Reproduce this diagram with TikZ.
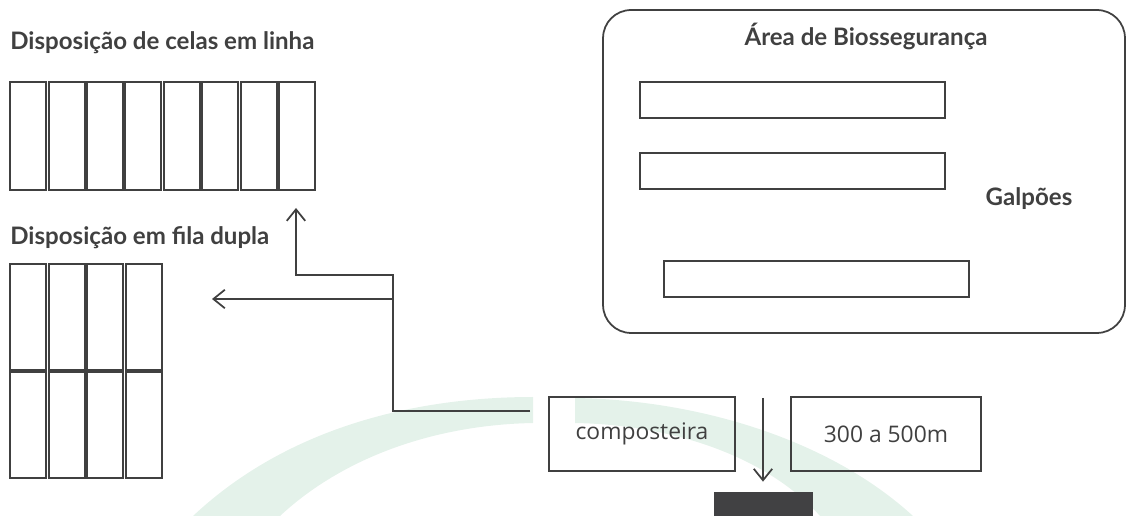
\documentclass[tikz,border=0pt]{standalone}
\usepackage{xcolor}
\usepackage{fontspec}
\setmainfont{Lato}
\newfontfamily\caixafont{Open Sans}
\usepackage{tikz}
\usetikzlibrary{arrows.meta}

\definecolor{cinza}{HTML}{404040}
\definecolor{marcadagua}{RGB}{228,242,234}
\definecolor{bloco}{HTML}{414143}

\tikzset{
    cela/.style={draw=cinza, line width=1.1pt, inner sep=0pt, minimum width=0.72cm},
    galpao/.style={draw=cinza, line width=1pt, inner sep=0pt, minimum width=6.1cm, minimum height=0.72cm},
    caixa/.style={draw=cinza, line width=1pt, inner sep=0pt, minimum height=1.48cm, text=cinza, font=\caixafont\fontsize{13}{15}\selectfont},
    titulo/.style={inner sep=0pt, text=cinza, font=\bfseries\fontsize{13.7}{16}\selectfont},
    seta/.style={draw=cinza, line width=1pt, -{Straight Barb[length=6.5pt,width=10.5pt]}},
}

\begin{document}
\begin{tikzpicture}[x=0.02cm, y=-0.02cm]
    \useasboundingbox (0, 0) rectangle (1129, 516);

    % marca d'agua ao fundo
    \fill[marcadagua] (193, 516) .. controls (290, 425) and (420, 397) .. (533, 397) -- (533, 423) .. controls (430, 425) and (340, 460) .. (280, 516) -- cycle;
    \fill[marcadagua] (575, 398) .. controls (700, 400) and (830, 440) .. (913, 516) -- (820, 516) .. controls (770, 460) and (680, 425) .. (575, 423) -- cycle;

    \node[titulo, anchor=base west] at (10, 50) (tLinha) {Disposição de celas em linha};
    \node[cela, minimum height=2.16cm] at (28.2, 136) (L1) {};
    \node[cela, minimum height=2.16cm] at (66.6, 136) (L2) {};
    \node[cela, minimum height=2.16cm] at (105.0, 136) (L3) {};
    \node[cela, minimum height=2.16cm] at (143.4, 136) (L4) {};
    \node[cela, minimum height=2.16cm] at (181.8, 136) (L5) {};
    \node[cela, minimum height=2.16cm] at (220.2, 136) (L6) {};
    \node[cela, minimum height=2.16cm] at (258.6, 136) (L7) {};
    \node[cela, minimum height=2.16cm] at (297.0, 136) (L8) {};

    \node[titulo, anchor=base west] at (10, 245) (tDupla) {Disposição em fila dupla};
    \node[cela, minimum height=2.12cm] at (28.25, 317) (D1) {};
    \node[cela, minimum height=2.12cm] at (66.75, 317) (D2) {};
    \node[cela, minimum height=2.12cm] at (105.25, 317) (D3) {};
    \node[cela, minimum height=2.12cm] at (143.75, 317) (D4) {};
    \node[cela, minimum height=2.12cm] at (28.25, 425) (D5) {};
    \node[cela, minimum height=2.12cm] at (66.75, 425) (D6) {};
    \node[cela, minimum height=2.12cm] at (105.25, 425) (D7) {};
    \node[cela, minimum height=2.12cm] at (143.75, 425) (D8) {};

    \node[draw=cinza, line width=1pt, rounded corners=0.56cm, minimum width=10.44cm, minimum height=6.46cm] at (864, 171.5) (area) {};
    \node[titulo, anchor=base] at (866, 46) (tArea) {Área de Biossegurança};
    \node[galpao] at (792.5, 100) (G1) {};
    \node[galpao] at (792.5, 171) (G2) {};
    \node[galpao] at (816.5, 279) (G3) {};
    \node[titulo, anchor=base] at (1029, 206) (tGalpoes) {Galpões};

    \node[caixa, minimum width=3.72cm] at (642, 434) (compost) {composteira};
    \node[caixa, minimum width=3.8cm] at (886, 434) (distancia) {300 a 500m};
    \node[fill=bloco, inner sep=0pt, minimum width=1.98cm, minimum height=0.48cm] at (763, 504) (fossa) {};

    \coordinate (saida) at (530, 411);
    \coordinate (tronco) at (393, 275);
    \coordinate (ramal) at (393, 299);
    \coordinate (pontaLinha) at (296, 208);
    \coordinate (pontaDupla) at (212, 299);
    \coordinate (topo) at (763, 398);

    \draw[seta] (saida) -| (tronco) -| (pontaLinha);
    \draw[seta] (ramal) -- (pontaDupla);
    \draw[seta, shorten >=0.2cm] (topo) -- (fossa);
\end{tikzpicture}
\end{document}
